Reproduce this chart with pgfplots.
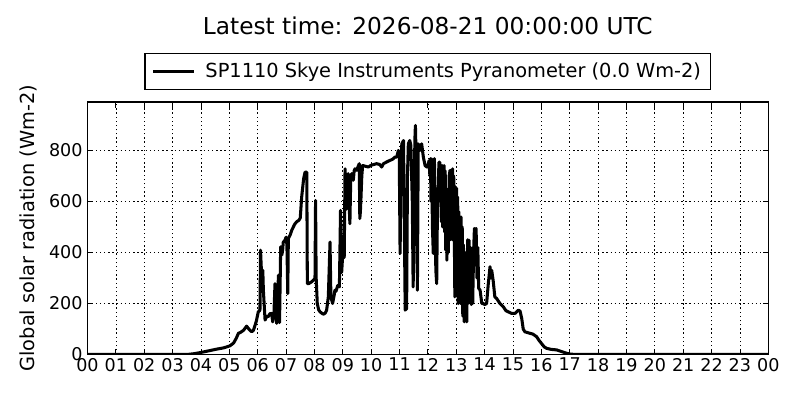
\documentclass[border=0pt]{standalone}
\usepackage{fontspec}
\setmainfont{DejaVu Sans}
\usepackage{pgfplots}
\pgfplotsset{compat=1.18}
\begin{document}
\begin{tikzpicture}
\useasboundingbox (-63.24pt,-32.88pt) rectangle (514.92pt,256.2pt);
\begin{axis}[
  at={(0,0)}, anchor=south west,
  scale only axis, width=492pt, height=182.5pt,
  xmin=0, xmax=24, ymin=0, ymax=990,
  xtick={0,1,...,24},
  xticklabels={00,01,02,03,04,05,06,07,08,09,10,11,12,13,14,15,16,17,18,19,20,21,22,23,00},
  ytick={0,200,400,600,800},
  /pgf/number format/assume math mode=true,
  /pgf/number format/1000 sep={},
  tick label style={font=\fontsize{12.7}{15}\selectfont},
  xticklabel style={yshift=1pt},
  tick align=inside, major tick length=4pt,
  tick style={black, line width=0.6pt},
  axis line style={line width=0.9pt},
  grid=major,
  major grid style={black, line width=0.5pt, dash pattern=on 1pt off 2pt},
  ylabel={Global solar radiation (Wm-2)},
  ylabel style={at={(axis description cs:-0.0874,0.5)}, anchor=center, font=\fontsize{14}{16}\selectfont},
  title={Latest time: 2026-08-21 00:00:00 UTC},
  title style={at={(axis description cs:0.5,1)}, anchor=base, yshift=43.1pt, font=\fontsize{16.8}{20}\selectfont},
  legend style={at={(axis description cs:0.5,1.0475)}, anchor=south, draw=black, line width=0.8pt,
    font=\fontsize{14}{16}\selectfont, inner xsep=5pt, inner ysep=5pt,
    /tikz/every odd column/.append style={column sep=5.5pt}},
  legend image code/.code={\draw[#1] (0pt,0pt) -- (29pt,0pt);},
]
\addplot[black, line width=2.2pt, line join=round] table {
x y
0 0
3.5 0
3.75 3
4.0 8
4.3 15
4.55 21
4.8 26
5.02 34
5.15 45
5.25 65
5.32 83
5.4 87
5.5 95
5.61 111
5.7 98
5.79 89
5.85 95
5.95 130
6.02 167
6.08 174
6.1 409
6.14 304
6.18 330
6.2 252
6.26 135
6.32 150
6.37 148
6.43 160
6.49 161
6.53 128
6.57 150
6.61 278
6.64 200
6.67 122
6.7 180
6.73 311
6.77 125
6.81 422
6.85 390
6.88 409
6.9 440
6.96 448
7.0 460
7.03 430
7.06 239
7.08 455
7.15 470
7.2 487
7.3 510
7.37 520
7.45 526
7.5 535
7.55 617
7.62 690
7.67 715
7.73 715
7.75 278
7.8 278
7.9 285
7.96 291
8.02 298
8.04 604
8.06 303
8.1 200
8.15 175
8.2 167
8.31 158
8.38 162
8.43 174
8.49 226
8.55 441
8.58 226
8.64 200
8.7 235
8.72 252
8.76 248
8.82 270
8.88 265
8.92 565
8.96 322
9.02 435
9.05 380
9.08 728
9.1 650
9.13 570
9.16 700
9.19 709
9.22 600
9.25 513
9.28 690
9.31 709
9.37 683
9.4 720
9.43 728
9.49 722
9.55 740
9.58 748
9.6 533
9.62 560
9.64 611
9.67 700
9.7 741
9.8 738
9.9 735
10.0 742
10.19 748
10.3 745
10.37 735
10.43 748
10.55 755
10.66 761
10.75 765
10.84 774
10.9 774
10.96 800
10.99 787
11.02 396
11.05 700
11.08 826
11.14 839
11.2 174
11.25 180
11.28 700
11.31 826
11.36 839
11.4 820
11.45 600
11.48 265
11.51 500
11.54 839
11.56 898
11.6 700
11.63 252
11.66 826
11.72 800
11.78 826
11.84 774
11.9 741
11.96 735
12.01 745
12.04 760
12.07 700
12.09 768
12.11 600
12.13 767
12.16 500
12.19 396
12.21 720
12.23 768
12.25 560
12.28 330
12.31 278
12.33 500
12.36 643
12.39 754
12.42 754
12.44 600
12.46 741
12.48 520
12.5 741
12.52 500
12.55 700
12.57 741
12.59 480
12.61 720
12.63 409
12.65 650
12.67 370
12.7 600
12.72 400
12.75 700
12.78 722
12.8 450
12.82 722
12.85 600
12.87 728
12.89 448
12.91 700
12.93 500
12.95 226
12.97 657
12.99 265
13.01 652
13.03 300
13.05 617
13.07 200
13.09 560
13.11 250
13.13 520
13.15 200
13.17 539
13.19 250
13.21 500
13.23 150
13.25 430
13.28 128
13.3 400
13.32 135
13.34 300
13.37 128
13.4 450
13.42 200
13.45 448
13.48 226
13.5 420
13.53 196
13.56 300
13.58 200
13.61 400
13.64 494
13.67 487
13.7 494
13.73 300
13.76 420
13.79 260
13.84 252
13.9 200
13.95 200
14.0 196
14.07 200
14.13 278
14.19 344
14.22 300
14.25 330
14.3 291
14.36 226
14.42 220
14.54 200
14.66 187
14.75 172
14.84 167
14.95 161
15.07 161
15.19 174
15.25 170
15.31 140
15.36 100
15.42 89
15.6 83
15.7 80
15.83 70
15.92 55
16.0 44
16.1 30
16.19 24
16.35 20
16.54 18
16.7 12
16.89 5
17.0 2
17.2 0
24 0
};
\addlegendentry{SP1110 Skye Instruments Pyranometer (0.0 Wm-2)}
\end{axis}
\end{tikzpicture}
\end{document}
